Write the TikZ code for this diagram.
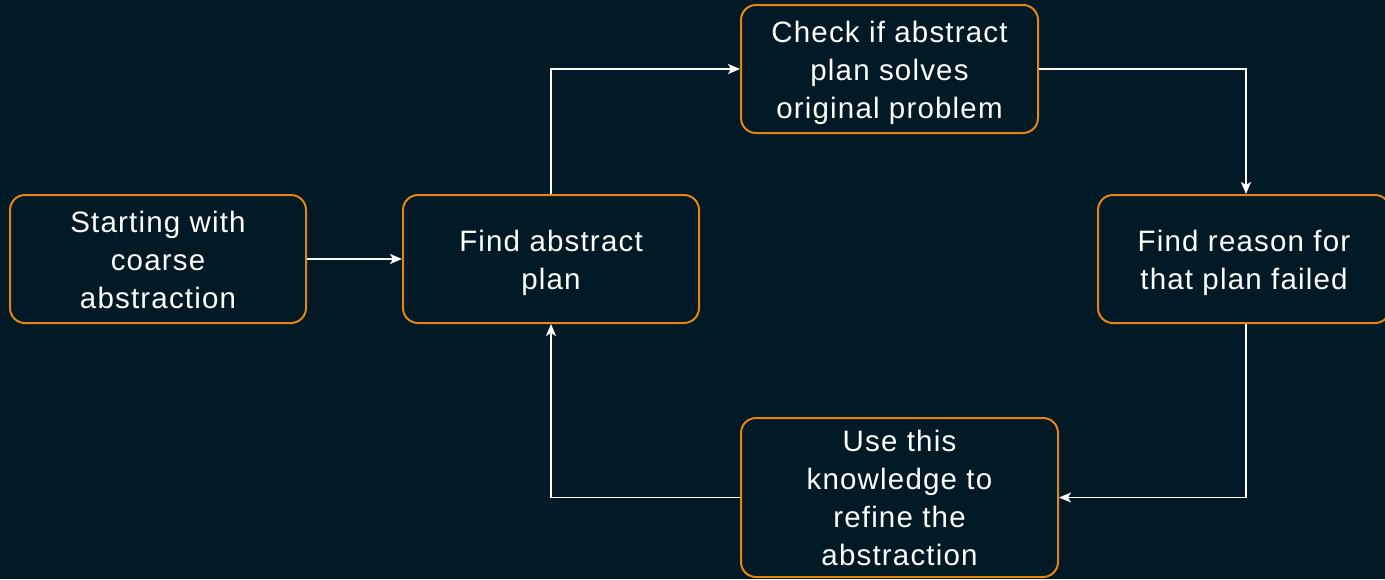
\documentclass[tikz,border=0pt]{standalone}
\usepackage{fontspec}
\setmainfont{Liberation Sans}[LetterSpace=4]
\usetikzlibrary{arrows.meta}
\definecolor{bgcol}{HTML}{021926}
\definecolor{edgeorange}{HTML}{E8850F}
\tikzset{
  stepbox/.style={draw=edgeorange, line width=2pt, rounded corners=15pt,
    fill=bgcol, inner sep=0pt},
  steptext/.style={text=white, align=center, inner sep=0pt,
    font=\fontsize{29.5}{38}\selectfont},
  flow/.style={draw=white, line width=1.6pt,
    -{Stealth[length=12pt, width=10pt, inset=3pt]}},
}
\begin{document}
\begin{tikzpicture}[x=1pt, y=-1pt]
  \useasboundingbox (0,0) rectangle (1385,579);
  \clip (0,0) rectangle (1385,579);
  \fill[bgcol] (0,0) rectangle (1385,579);

  % process steps: rounded box with its caption set as a centred label
  \node[stepbox, minimum width=296pt, minimum height=128pt,
    label={[steptext, yshift=-1pt]center:{Starting with\\coarse\\abstraction}}]
    (start) at (158,259) {};
  \node[stepbox, minimum width=296pt, minimum height=128pt,
    label={[steptext, yshift=-4pt]center:{Find abstract\\plan}}]
    (plan) at (551,259) {};
  \node[stepbox, minimum width=297pt, minimum height=128pt,
    label={[steptext, yshift=-4pt]center:{Check if abstract\\plan solves\\original problem}}]
    (check) at (889.5,69) {};
  \node[stepbox, minimum width=292pt, minimum height=128pt,
    label={[steptext, yshift=-4pt]center:{Find reason for\\that plan failed}}]
    (reason) at (1244,259) {};
  \node[stepbox, minimum width=317pt, minimum height=159pt,
    label={[steptext]center:{Use this\\knowledge to\\refine the\\abstraction}}]
    (refine) at (899.5,497.5) {};

  % connectors
  \draw[flow] (start.east) -- (plan.west);
  \draw[flow] (plan.north) |- (check.west);
  \draw[flow] (check.east) -| (reason.north -| 1246,0);
  \draw[flow] (reason.south -| 1246,0) |- (refine.east);
  \draw[flow] (refine.west) -| (plan.south);
\end{tikzpicture}
\end{document}
